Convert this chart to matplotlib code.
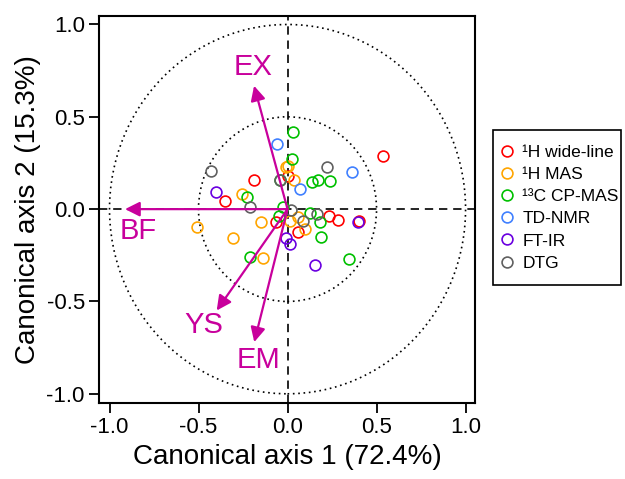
import numpy as np
import matplotlib
matplotlib.use('Agg')
import matplotlib.pyplot as plt
from matplotlib.patches import Circle, Rectangle
from matplotlib.lines import Line2D

plt.rcParams['font.family'] = ['Liberation Sans', 'DejaVu Sans']

# sample scores (canonical axis 1, canonical axis 2)
red_x = [0.535, 0.004, -0.188, -0.353, -0.065, 0.057, 0.233, 0.284, 0.402]
red_y = [0.288, 0.181, 0.156, 0.044, -0.069, -0.123, -0.035, -0.057, -0.064]
orange_x = [-0.008, 0.002, 0.038, -0.256, -0.510, -0.147, 0.016, 0.061, 0.098, -0.308, -0.136]
orange_y = [0.228, 0.234, 0.156, 0.080, -0.096, -0.068, -0.066, -0.043, -0.107, -0.154, -0.266]
green_x = [0.028, 0.027, -0.040, 0.140, 0.171, 0.240, -0.226, -0.024, -0.048, 0.126, 0.183, 0.188, -0.212, 0.346]
green_y = [0.416, 0.270, 0.160, 0.149, 0.159, 0.151, 0.064, 0.010, -0.038, -0.021, -0.068, -0.152, -0.257, -0.268]
blue_x = [-0.061, 0.072, 0.361]
blue_y = [0.352, 0.109, 0.199]
purple_x = [-0.400, 0.398, -0.011, 0.012, 0.154]
purple_y = [0.091, -0.069, -0.154, -0.189, -0.304]
gray_x = [-0.431, -0.045, 0.220, -0.209, 0.022, 0.166, 0.089]
gray_y = [0.206, 0.157, 0.229, 0.010, -0.007, -0.026, -0.062]

groups = ['¹H wide-line', '¹H MAS', '¹³C CP-MAS', 'TD-NMR', 'FT-IR', 'DTG']
colors = ['#ff0000', '#ffa500', '#00c000', '#4080ff', '#6a00e0', '#606060']
xs = [red_x, orange_x, green_x, blue_x, purple_x, gray_x]
ys = [red_y, orange_y, green_y, blue_y, purple_y, gray_y]

# variable loadings
var_names = ['BF', 'EX', 'YS', 'EM']
var_x = [-0.913, -0.188, -0.398, -0.187]
var_y = [0.0, 0.668, -0.549, -0.720]
lab_x = [-0.838, -0.194, -0.469, -0.164]
lab_y = [-0.120, 0.768, -0.629, -0.818]
mag = '#c8009c'

fig = plt.figure(figsize=(6.25, 4.79), dpi=100)
ax = fig.add_axes([0.159, 0.159, 0.601, 0.808])

for r in [1.0, 0.5]:
    ax.add_patch(Circle((0, 0), r, fill=False, ls=(0, (1, 2.2)), lw=1.2, color='k'))
ax.axhline(0, color='k', ls=(0, (5, 3.5)), lw=1.2, zorder=1)
ax.axvline(0, color='k', ls=(0, (5, 3.5)), lw=1.2, zorder=1)

for x, y, c in zip(xs, ys, colors):
    ax.plot(x, y, 'o', ms=7.8, mfc='none', mec=c, mew=1.2, zorder=3)

for x, y, lx, ly, name in zip(var_x, var_y, lab_x, lab_y, var_names):
    ax.annotate('', xy=(x, y), xytext=(0, 0),
                arrowprops=dict(arrowstyle='-|>', color=mag, lw=1.6,
                                mutation_scale=22, shrinkA=0, shrinkB=0),
                zorder=4)
    ax.text(lx, ly, name, color=mag, fontsize=21, ha='center', va='center')

ax.set_xlim(-1.057, 1.053)
ax.set_ylim(-1.049, 1.047)
ax.set_xticks([-1.0, -0.5, 0.0, 0.5, 1.0])
ax.set_yticks([-1.0, -0.5, 0.0, 0.5, 1.0])
ax.set_xticklabels(['-1.0', '-0.5', '0.0', '0.5', '1.0'])
ax.set_yticklabels(['-1.0', '-0.5', '0.0', '0.5', '1.0'])
ax.tick_params(direction='out', length=7, width=1.3, labelsize=16, top=False, right=False)
for s in ax.spines.values():
    s.set_linewidth(1.5)
ax.set_xlabel('Canonical axis 1 (72.4%)', fontsize=20, labelpad=4)
ax.set_ylabel('Canonical axis 2 (15.3%)', fontsize=20, labelpad=4)

# legend box drawn separately so padding can differ in x and y
fig.patches.append(Rectangle((492.5 / 625, 1 - 285 / 479), (621 - 492.5) / 625, (285 - 129.5) / 479,
                             transform=fig.transFigure, fill=False, ec='k', lw=1.2))
handles = [Line2D([], [], ls='none', marker='o', ms=7.8, mfc='none', mec=c, mew=1.2)
           for c in colors]
leg = fig.legend(handles, groups, loc='upper left', bbox_to_anchor=(500.3 / 625, 1 - 145 / 479),
                 bbox_transform=fig.transFigure, fontsize=12.5, frameon=False,
                 handlelength=0.8, handletextpad=0.47,
                 labelspacing=0.40, borderpad=0, borderaxespad=0)

fig.savefig('out.png', dpi=100)
